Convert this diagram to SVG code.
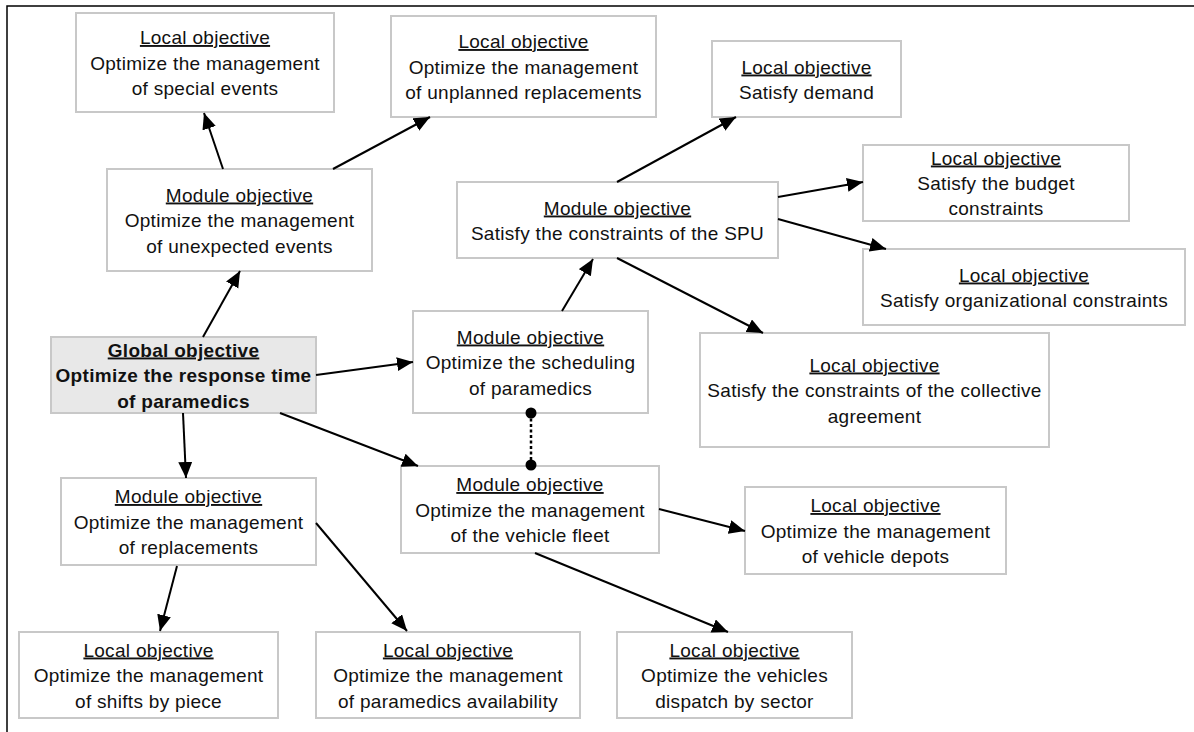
<svg xmlns="http://www.w3.org/2000/svg" width="1194" height="732" viewBox="0 0 1194 732">
  <style>
    .box { fill: #ffffff; stroke: #c8c8c8; stroke-width: 2; }
    .gbox { fill: #e8e8e8; stroke: #c8c8c8; stroke-width: 2; }
    .t { font-family: "Liberation Sans", Arial, sans-serif; font-size: 19px; fill: #111111; text-anchor: middle; letter-spacing: 0.3px; }
    .b { font-weight: bold; }
    .h { text-decoration: underline; }
    .frame { stroke: #000000; stroke-width: 1.5; fill: none; }
    .arrow { stroke: #000000; stroke-width: 2; fill: none; marker-end: url(#head); }
    .link { stroke: #000000; stroke-width: 2.5; stroke-dasharray: 3 2.5; fill: none; }
    .dot { fill: #000000; }
  </style>
  <defs>
    <marker id="head" markerUnits="userSpaceOnUse" markerWidth="17" markerHeight="15" refX="16" refY="7" orient="auto">
      <path d="M0,0 L16,7 L0,14 z" fill="#000000"/>
    </marker>
  </defs>

  <rect width="1194" height="732" fill="#ffffff"/>
  <!-- page frame: top and left rules only -->
  <path class="frame" d="M7,732 V6 H1194"/>

  <g id="local-special-events">
    <rect class="box" x="76" y="13" width="258" height="99"/>
    <text class="t h" x="205" y="44">Local objective</text>
    <text class="t" x="205" y="69.5">Optimize the management</text>
    <text class="t" x="205" y="95">of special events</text>
  </g>

  <g id="local-unplanned-replacements">
    <rect class="box" x="391" y="16" width="265" height="101"/>
    <text class="t h" x="523.5" y="48">Local objective</text>
    <text class="t" x="523.5" y="73.5">Optimize the management</text>
    <text class="t" x="523.5" y="99">of unplanned replacements</text>
  </g>

  <g id="local-demand">
    <rect class="box" x="712" y="41" width="189" height="76"/>
    <text class="t h" x="806.5" y="73.5">Local objective</text>
    <text class="t" x="806.5" y="98.5">Satisfy demand</text>
  </g>

  <g id="module-spu">
    <rect class="box" x="457" y="182" width="321" height="76"/>
    <text class="t h" x="617.5" y="214.5">Module objective</text>
    <text class="t" x="617.5" y="239.5">Satisfy the constraints of the SPU</text>
  </g>

  <g id="local-budget">
    <rect class="box" x="863" y="145" width="266" height="76"/>
    <text class="t h" x="996" y="164.5">Local objective</text>
    <text class="t" x="996" y="189.5">Satisfy the budget</text>
    <text class="t" x="996" y="215">constraints</text>
  </g>

  <g id="local-organizational">
    <rect class="box" x="863" y="249" width="322" height="76"/>
    <text class="t h" x="1024" y="281.5">Local objective</text>
    <text class="t" x="1024" y="306.5">Satisfy organizational constraints</text>
  </g>

  <g id="local-collective-agreement">
    <rect class="box" x="700" y="333" width="349" height="114"/>
    <text class="t h" x="874.5" y="371.5">Local objective</text>
    <text class="t" x="874.5" y="397">Satisfy the constraints of the collective</text>
    <text class="t" x="874.5" y="422.5">agreement</text>
  </g>

  <g id="module-unexpected-events">
    <rect class="box" x="107" y="169" width="265" height="102"/>
    <text class="t h" x="239.5" y="201.5">Module objective</text>
    <text class="t" x="239.5" y="227">Optimize the management</text>
    <text class="t" x="239.5" y="252.5">of unexpected events</text>
  </g>

  <g id="global-objective">
    <rect class="gbox" x="51" y="337" width="265" height="76"/>
    <text class="t b h" x="183.5" y="356.5">Global objective</text>
    <text class="t b" x="183.5" y="382">Optimize the response time</text>
    <text class="t b" x="183.5" y="407.5">of paramedics</text>
  </g>

  <g id="module-scheduling">
    <rect class="box" x="413" y="311" width="235" height="102"/>
    <text class="t h" x="530.5" y="343.5">Module objective</text>
    <text class="t" x="530.5" y="369">Optimize the scheduling</text>
    <text class="t" x="530.5" y="394.5">of paramedics</text>
  </g>

  <g id="module-vehicle-fleet">
    <rect class="box" x="401" y="466" width="258" height="87"/>
    <text class="t h" x="530" y="491">Module objective</text>
    <text class="t" x="530" y="516.5">Optimize the management</text>
    <text class="t" x="530" y="542">of the vehicle fleet</text>
  </g>

  <g id="module-replacements">
    <rect class="box" x="61" y="478" width="255" height="87"/>
    <text class="t h" x="188.5" y="503">Module objective</text>
    <text class="t" x="188.5" y="528.5">Optimize the management</text>
    <text class="t" x="188.5" y="554">of replacements</text>
  </g>

  <g id="local-shifts">
    <rect class="box" x="19" y="632" width="259" height="86"/>
    <text class="t h" x="148.5" y="656.5">Local objective</text>
    <text class="t" x="148.5" y="682">Optimize the management</text>
    <text class="t" x="148.5" y="707.5">of shifts by piece</text>
  </g>

  <g id="local-availability">
    <rect class="box" x="316" y="632" width="264" height="86"/>
    <text class="t h" x="448" y="656.5">Local objective</text>
    <text class="t" x="448" y="682">Optimize the management</text>
    <text class="t" x="448" y="707.5">of paramedics availability</text>
  </g>

  <g id="local-dispatch">
    <rect class="box" x="617" y="632" width="235" height="86"/>
    <text class="t h" x="734.5" y="656.5">Local objective</text>
    <text class="t" x="734.5" y="682">Optimize the vehicles</text>
    <text class="t" x="734.5" y="707.5">dispatch by sector</text>
  </g>

  <g id="local-depots">
    <rect class="box" x="745" y="487" width="261" height="87"/>
    <text class="t h" x="875.5" y="512">Local objective</text>
    <text class="t" x="875.5" y="537.5">Optimize the management</text>
    <text class="t" x="875.5" y="563">of vehicle depots</text>
  </g>

  <!-- connectors, drawn over the box borders -->
  <g id="connectors">
    <line class="arrow" x1="223" y1="169" x2="204" y2="113"/>
    <line class="arrow" x1="333" y1="169" x2="430" y2="117"/>
    <line class="arrow" x1="617" y1="182" x2="736" y2="117"/>
    <line class="arrow" x1="778" y1="197" x2="863" y2="182"/>
    <line class="arrow" x1="778" y1="219" x2="886" y2="249"/>
    <line class="arrow" x1="617" y1="258" x2="763" y2="333"/>
    <line class="arrow" x1="562" y1="311" x2="593" y2="259"/>
    <line class="arrow" x1="203" y1="337" x2="240" y2="271"/>
    <line class="arrow" x1="316" y1="375" x2="413" y2="362"/>
    <line class="arrow" x1="280" y1="413" x2="418" y2="466"/>
    <line class="arrow" x1="183" y1="413" x2="186" y2="478"/>
    <line class="arrow" x1="177" y1="566" x2="160" y2="631"/>
    <line class="arrow" x1="316" y1="523" x2="407" y2="631"/>
    <line class="arrow" x1="659" y1="509" x2="745" y2="531"/>
    <line class="arrow" x1="535" y1="553" x2="728" y2="632"/>
    <!-- association between the two modules -->
    <line class="link" x1="531" y1="413" x2="531" y2="465"/>
    <circle class="dot" cx="531" cy="413" r="5.5"/>
    <circle class="dot" cx="531" cy="465" r="5.5"/>
  </g>
</svg>
